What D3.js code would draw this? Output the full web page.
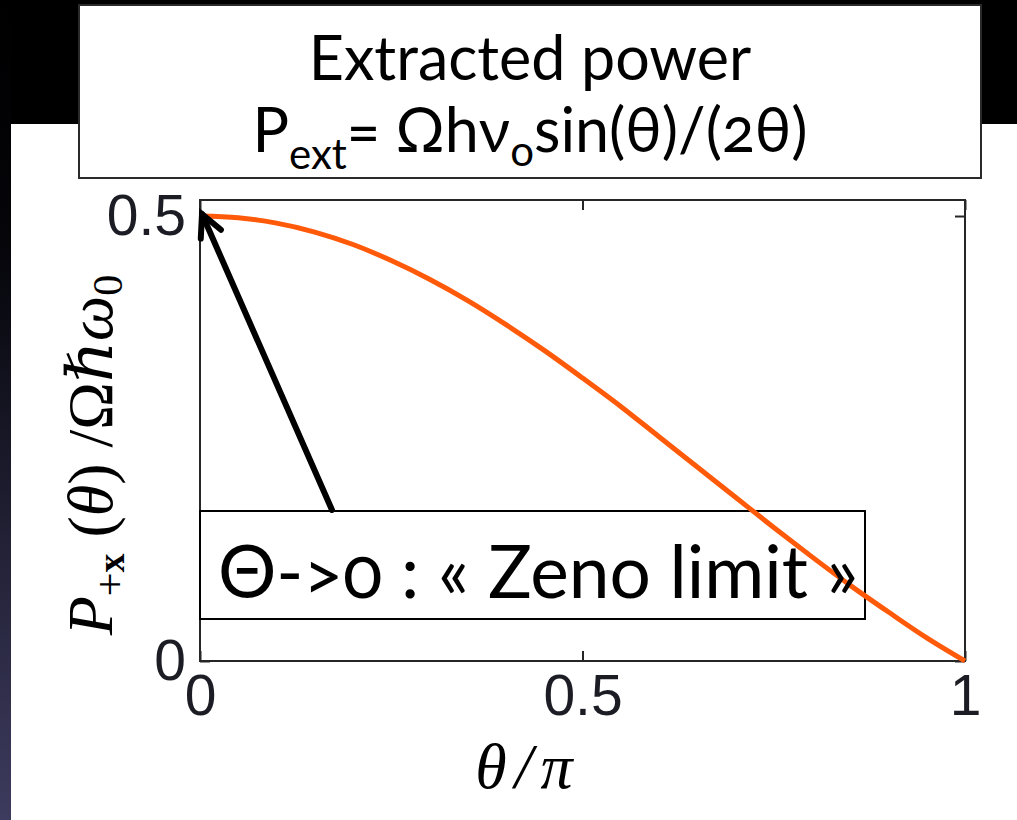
<!DOCTYPE html>
<html>
<head>
<meta charset="utf-8">
<script src="https://cdn.jsdelivr.net/npm/d3@7"></script>
<style>
  body { margin: 0; background: #000; }
  svg { display: block; }
</style>
</head>
<body>
<script>
var w = 1017;
var h = 820;

// values (theta / pi  ->  P / (Omega hbar omega0))
var thetaOverPi = [0, 0.05, 0.1, 0.15, 0.2, 0.25, 0.3, 0.35, 0.4, 0.45, 0.5,
                   0.55, 0.6, 0.65, 0.7, 0.75, 0.8, 0.85, 0.9, 0.95, 1];
var power = [0.5, 0.498, 0.492, 0.482, 0.468, 0.45, 0.429, 0.405, 0.378, 0.349, 0.318,
             0.286, 0.252, 0.218, 0.184, 0.15, 0.117, 0.085, 0.055, 0.026, 0];

var xTicks = [0, 0.5, 1];
var yTicks = [0, 0.5];
var xTickLabels = ["0", "0.5", "1"];
var yTickLabels = ["0", "0.5"];

var titleLine1 = "Extracted power";
var noteText = "\u0398->0 : \u00ab Zeno limit \u00bb";

var svg = d3.select("body")
            .append("svg")
            .attr("width", w)
            .attr("height", h);

var defs = svg.append("defs");

// dark strip on the left, fading from black to slate blue
var grad = defs.append("linearGradient")
               .attr("id", "strip")
               .attr("x1", 0).attr("y1", 0)
               .attr("x2", 0).attr("y2", 1);
grad.append("stop").attr("offset", "0%").attr("stop-color", "#000");
grad.append("stop").attr("offset", "30%").attr("stop-color", "#05050a");
grad.append("stop").attr("offset", "100%").attr("stop-color", "#3d3b5e");

defs.append("marker")
    .attr("id", "head")
    .attr("markerUnits", "userSpaceOnUse")
    .attr("viewBox", "-30 -20 40 40")
    .attr("markerWidth", 40)
    .attr("markerHeight", 40)
    .attr("refX", 0)
    .attr("refY", 0)
    .attr("orient", "auto")
    .append("path")
    .attr("d", "M-22,-11L0,0L-22,11")
    .attr("fill", "none")
    .attr("stroke", "#000")
    .attr("stroke-width", 6)
    .attr("stroke-linecap", "round");

svg.append("rect")
   .attr("x", 0).attr("y", 0)
   .attr("width", w).attr("height", h)
   .attr("fill", "#000");

svg.append("rect")
   .attr("x", 0).attr("y", 0)
   .attr("width", 11).attr("height", h)
   .attr("fill", "url(#strip)");

svg.append("rect")
   .attr("x", 11).attr("y", 124)
   .attr("width", w - 11).attr("height", h - 124)
   .attr("fill", "#fff");

// title box
svg.append("rect")
   .attr("x", 79).attr("y", 5)
   .attr("width", 902).attr("height", 173)
   .attr("fill", "#fff")
   .attr("stroke", "#2a2a2a")
   .attr("stroke-width", 2);

var titleFont = "Lato, 'Open Sans', sans-serif";

svg.append("text")
   .attr("x", 530).attr("y", 80)
   .attr("text-anchor", "middle")
   .attr("font-family", titleFont)
   .attr("font-size", 61)
   .attr("fill", "#000")
   .text(titleLine1);

var t2 = svg.append("text")
            .attr("x", 530).attr("y", 152)
            .attr("text-anchor", "middle")
            .attr("font-family", titleFont)
            .attr("font-size", 61)
            .style("font-variant-numeric", "oldstyle-nums")
            .attr("fill", "#000");
t2.append("tspan").text("P");
t2.append("tspan").attr("dy", 17).attr("font-size", 42).text("ext");
t2.append("tspan").attr("dy", -17).text("= \u03a9h\u03bd");
t2.append("tspan").attr("dy", 14).attr("font-size", 42).text("o");
t2.append("tspan").attr("dy", -14).text("sin(\u03b8)/(2\u03b8)");

// plot area
var xscale = d3.scaleLinear()
               .domain([0, 1])
               .range([200, 965]);

var yscale = d3.scaleLinear()
               .domain([0, 0.518])
               .range([661, 200]);

var axisColor = "#262626";
var tickFont = "'Liberation Sans', Arial, sans-serif";

svg.append("rect")
   .attr("x", xscale(0)).attr("y", yscale(0.518))
   .attr("width", xscale(1) - xscale(0))
   .attr("height", yscale(0) - yscale(0.518))
   .attr("fill", "none")
   .attr("stroke", axisColor)
   .attr("stroke-width", 2);

var gx = svg.append("g")
            .attr("transform", "translate(0," + yscale(0) + ")")
            .call(d3.axisBottom(xscale)
                    .tickValues(xTicks)
                    .tickFormat(function(d, i) { return xTickLabels[i]; })
                    .tickSize(-10)
                    .tickPadding(14));

var gxTop = svg.append("g")
               .attr("transform", "translate(0," + yscale(0.518) + ")")
               .call(d3.axisTop(xscale)
                       .tickValues(xTicks)
                       .tickFormat("")
                       .tickSize(-10));

var gy = svg.append("g")
            .attr("transform", "translate(" + xscale(0) + ",0)")
            .call(d3.axisLeft(yscale)
                    .tickValues(yTicks)
                    .tickFormat(function(d, i) { return yTickLabels[i]; })
                    .tickSize(-10)
                    .tickPadding(14));

var gyRight = svg.append("g")
                 .attr("transform", "translate(" + xscale(1) + ",0)")
                 .call(d3.axisRight(yscale)
                         .tickValues(yTicks)
                         .tickFormat("")
                         .tickSize(-10));

[gx, gxTop, gy, gyRight].forEach(function(g) {
    g.select(".domain").remove();
    g.selectAll(".tick line")
     .attr("stroke", axisColor)
     .attr("stroke-width", 2);
    g.selectAll("text")
     .attr("font-family", tickFont)
     .attr("font-size", 57)
     .attr("fill", "#1c1c24");
});

gx.selectAll("text").attr("dy", "0.71em");

// axis labels
svg.append("text")
   .attr("x", 528).attr("y", 788)
   .attr("text-anchor", "middle")
   .attr("font-family", "'Liberation Serif', 'DejaVu Serif', serif")
   .attr("font-style", "italic")
   .attr("font-size", 64)
   .attr("letter-spacing", 8)
   .attr("fill", "#000")
   .text("\u03b8/\u03c0");

var yl = svg.append("text")
            .attr("transform", "translate(112,455) rotate(-90)")
            .attr("text-anchor", "middle")
            .attr("font-family", "'Liberation Serif', 'DejaVu Serif', serif")
            .attr("font-style", "italic")
            .attr("font-size", 64)
            .attr("fill", "#000");
yl.append("tspan").text("P");
yl.append("tspan").attr("dy", 12).attr("font-size", 42).attr("font-style", "normal").text("+");
yl.append("tspan").attr("font-size", 38).attr("font-weight", "bold").attr("font-style", "normal").text("x");
yl.append("tspan").attr("dy", -12).attr("font-style", "normal").text(" (");
yl.append("tspan").text("\u03b8");
yl.append("tspan").attr("font-style", "normal").text(") /\u03a9");
yl.append("tspan").text("\u210f\u03c9");
yl.append("tspan").attr("dy", 10).attr("font-size", 42).attr("font-style", "normal").text("0");

// curve
var points = thetaOverPi.map(function(d, i) {
    return [d, power[i]];
});

var line = d3.line()
             .x(function(d) { return xscale(d[0]); })
             .y(function(d) { return yscale(d[1]); })
             .curve(d3.curveMonotoneX);

// Zeno box (no fill, the curve runs through it)
svg.append("rect")
   .attr("x", 200).attr("y", 511)
   .attr("width", 665).attr("height", 108)
   .attr("fill", "none")
   .attr("stroke", "#000")
   .attr("stroke-width", 2);

svg.append("path")
   .datum(points)
   .attr("d", line)
   .attr("fill", "none")
   .attr("stroke", "#ff5a0a")
   .attr("stroke-width", 5);

svg.append("text")
   .attr("x", 538).attr("y", 598)
   .attr("text-anchor", "middle")
   .attr("font-family", titleFont)
   .attr("font-size", 73)
   .style("font-variant-numeric", "oldstyle-nums")
   .attr("fill", "#000")
   .text(noteText);

// arrow pointing at the theta -> 0 end of the curve
svg.append("line")
   .attr("x1", 332).attr("y1", 510)
   .attr("x2", xscale(thetaOverPi[0]) + 2).attr("y2", yscale(power[0]) - 2)
   .attr("stroke", "#000")
   .attr("stroke-width", 6)
   .attr("stroke-linecap", "round")
   .attr("marker-end", "url(#head)");
</script>
</body>
</html>
